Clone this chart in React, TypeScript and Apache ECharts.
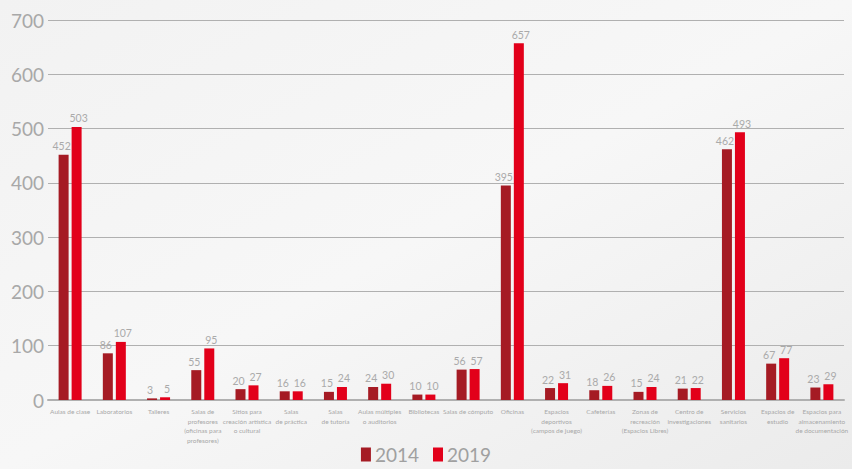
import React, { useEffect, useRef } from "react";
import * as echarts from "echarts";

const categories = [
  "Aulas de clase",
  "Laboratorios",
  "Talleres",
  "Salas de\nprofesores\n(oficinas para\nprofesores)",
  "Sitios para\ncreación artística\no cultural",
  "Salas\nde práctica",
  "Salas\nde tutoría",
  "Aulas múltiples\no auditorios",
  "Bibliotecas",
  "Salas de cómputo",
  "Oficinas",
  "Espacios\ndeportivos\n(campos de juego)",
  "Cafeterías",
  "Zonas de\nrecreación\n(Espacios Libres)",
  "Centro de\ninvestigaciones",
  "Servicios\nsanitarios",
  "Espacios de\nestudio",
  "Espacios para\nalmacenamiento\nde documentación",
];
const values2014 = [452, 86, 3, 55, 20, 16, 15, 24, 10, 56, 395, 22, 18, 15, 21, 462, 67, 23];
const values2019 = [503, 107, 5, 95, 27, 16, 24, 30, 10, 57, 657, 31, 26, 24, 22, 493, 77, 29];
const seriesNames = ["2014", "2019"];

export default function App() {
  const ref = useRef<HTMLDivElement>(null);
  useEffect(() => {
    if (!ref.current) return;
    const chart = echarts.init(ref.current, null, { renderer: "svg" });
    const font = "Lato";
    const labelStyle = {
      show: true,
      position: "top",
      fontSize: 10.5,
      color: "#aaaaaa",
      fontFamily: font,
      distance: 3,
    };
    chart.setOption({
      animation: false,
      backgroundColor: {
        type: "linear",
        x: 0, y: 0, x2: 1, y2: 1,
        colorStops: [
          { offset: 0, color: "#f2f2f2" },
          { offset: 0.5, color: "#f7f7f7" },
          { offset: 1, color: "#ebebeb" },
        ],
      },
      grid: { left: 48, right: 8, top: 20, bottom: 69, containLabel: false },
      legend: {
        bottom: 0,
        left: "center",
        itemWidth: 10,
        itemHeight: 14,
        itemGap: 14,
        icon: "rect",
        textStyle: { fontSize: 19, color: "#a0a0a0", fontFamily: font, padding: [0, 0, 0, -1] },
        data: seriesNames,
      },
      xAxis: {
        type: "category",
        data: categories,
        axisLine: { lineStyle: { color: "#b0b0b0", width: 2 } },
        axisTick: { show: false },
        axisLabel: {
          interval: 0,
          fontSize: 6.5,
          lineHeight: 9.5,
          color: "#a8a8a8",
          fontFamily: font,
          margin: 7,
        },
      },
      yAxis: {
        type: "value",
        min: 0,
        max: 700,
        interval: 100,
        axisLine: { show: false },
        axisTick: { show: false },
        axisLabel: { fontSize: 19, color: "#a8a8a8", fontFamily: font, margin: 4 },
        splitLine: { lineStyle: { color: "#b0b0b0", width: 1 } },
      },
      series: [
        {
          name: seriesNames[0],
          type: "bar",
          data: values2014,
          barWidth: 10,
          barGap: "30%",
          itemStyle: { color: "#a51b24" },
          label: { ...labelStyle, offset: [-2, 0] },
        },
        {
          name: seriesNames[1],
          type: "bar",
          data: values2019,
          barWidth: 10,
          itemStyle: { color: "#e2001a" },
          label: { ...labelStyle, offset: [2, 0] },
        },
      ],
    });
    return () => chart.dispose();
  }, []);
  return (
    <div
      ref={ref}
      style={{ position: "fixed", left: 0, top: 0, width: 852, height: 469 }}
    />
  );
}
